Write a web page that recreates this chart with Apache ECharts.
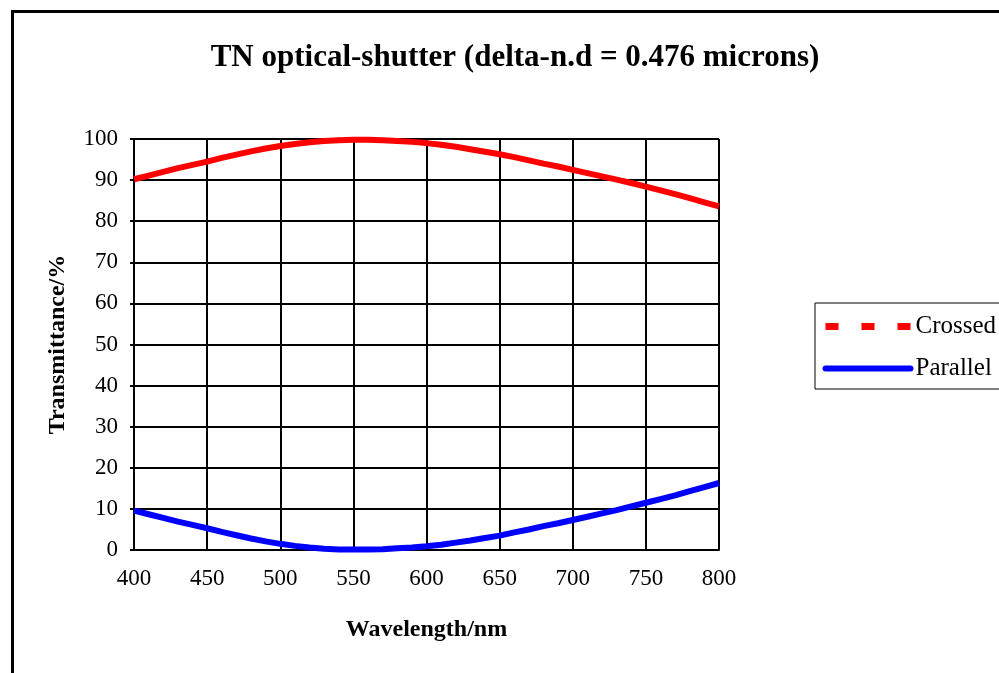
<!DOCTYPE html>
<html>
<head>
<meta charset="utf-8">
<script src="https://cdn.jsdelivr.net/npm/echarts@6/dist/echarts.min.js"></script>
<style>
html,body{margin:0;padding:0;background:#fff;}
#main{width:999px;height:673px;}
</style>
</head>
<body>
<div id="main"></div>
<script>
var titleText = 'TN optical-shutter (delta-n.d = 0.476 microns)';
var xAxisName = 'Wavelength/nm';
var yAxisName = 'Transmittance/%';
var seriesNames = ['Crossed', 'Parallel'];
var wavelengths = [400,410,420,430,440,450,460,470,480,490,500,510,520,530,540,550,560,570,580,590,600,610,620,630,640,650,660,670,680,690,700,710,720,730,740,750,760,770,780,790,800];
var crossed = [90.2,91.1,92.0,92.9,93.7,94.5,95.4,96.2,97.0,97.7,98.3,98.8,99.2,99.5,99.7,99.8,99.8,99.7,99.5,99.3,99.0,98.6,98.1,97.5,96.9,96.3,95.6,94.8,94.0,93.3,92.5,91.7,90.9,90.1,89.3,88.4,87.5,86.6,85.6,84.6,83.6];
var parallel = [9.6,8.7,7.8,6.9,6.1,5.3,4.4,3.6,2.8,2.1,1.5,1.0,0.6,0.3,0.1,0.1,0.1,0.2,0.4,0.6,0.9,1.3,1.8,2.3,2.9,3.5,4.3,5.0,5.8,6.5,7.3,8.1,8.9,9.7,10.6,11.5,12.4,13.3,14.3,15.3,16.3];

function pairs(xs, ys){ return xs.map(function(x,i){ return [x, ys[i]]; }); }

var serif = '"Liberation Serif", "Times New Roman", serif';
var hidden = {color: 'rgba(0,0,0,0)', borderWidth: 0, opacity: 0};
var chart = echarts.init(document.getElementById('main'), null, {renderer:'canvas'});
chart.setOption({
  animation: false,
  backgroundColor: '#fff',
  title: {
    text: titleText,
    left: 510, top: 37, textAlign: 'center',
    textStyle: {fontFamily: serif, fontSize: 31, fontWeight: 'bold', color: '#000'}
  },
  graphic: [{
    type: 'rect', left: 10, top: 9, silent: true,
    shape: {x: 0, y: 0, width: 1200, height: 900},
    style: {fill: 'none', stroke: '#000', lineWidth: 3}
  }],
  legend: {
    orient: 'vertical', left: 815, top: 303,
    itemWidth: 85, itemHeight: 24, itemGap: 17,
    padding: [11, 40, 8, 7],
    borderColor: '#000', borderWidth: 1,
    textStyle: {fontFamily: serif, fontSize: 25, color: '#000'},
    data: [
      {name: seriesNames[0], itemStyle: hidden, lineStyle: {type: [13, 23], width: 7, cap: 'butt', color: '#ff0000'}},
      {name: seriesNames[1], itemStyle: hidden, lineStyle: {width: 6, cap: 'round', color: '#0000ff'}}
    ]
  },
  grid: {left: 134, right: 280, top: 139, bottom: 123, containLabel: false},
  xAxis: {
    type: 'value', min: 400, max: 800, interval: 50,
    name: xAxisName, nameLocation: 'middle', nameGap: 68,
    nameTextStyle: {fontFamily: serif, fontSize: 24, fontWeight: 'bold', color: '#000'},
    axisLine: {lineStyle: {color: '#000', width: 2}},
    axisTick: {show: false},
    axisLabel: {margin: 17, fontFamily: serif, fontSize: 23, color: '#000'},
    splitLine: {show: true, lineStyle: {color: '#000', width: 2}}
  },
  yAxis: {
    type: 'value', min: 0, max: 100, interval: 10,
    name: yAxisName, nameLocation: 'middle', nameGap: 64, nameRotate: 90,
    nameTextStyle: {fontFamily: serif, fontSize: 24, fontWeight: 'bold', color: '#000'},
    axisLine: {show: true, lineStyle: {color: '#000', width: 2}},
    axisTick: {show: true, length: 4, lineStyle: {color: '#000', width: 2}},
    axisLabel: {margin: 16, fontFamily: serif, fontSize: 23, color: '#000'},
    splitLine: {show: true, lineStyle: {color: '#000', width: 2}}
  },
  series: [
    {name: seriesNames[0], type: 'line', data: pairs(wavelengths, crossed), showSymbol: false, symbol: 'none',
     lineStyle: {color: '#ff0000', width: 6}, itemStyle: {color: '#ff0000'}, z: 3},
    {name: seriesNames[1], type: 'line', data: pairs(wavelengths, parallel), showSymbol: false, symbol: 'none',
     lineStyle: {color: '#0000ff', width: 6}, itemStyle: {color: '#0000ff'}, z: 3}
  ]
});
</script>
</body>
</html>
